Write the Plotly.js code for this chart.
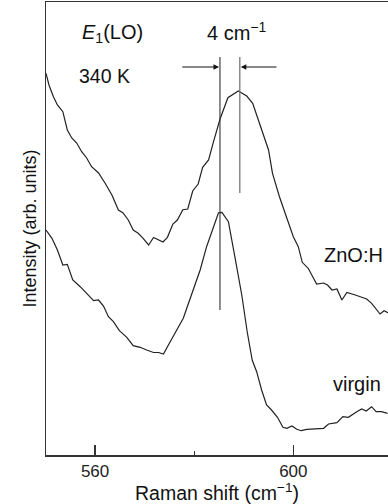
<!DOCTYPE html>
<html>
<head>
<meta charset="utf-8">
<script src="https://cdn.plot.ly/plotly-3.0.1.min.js"></script>
<style>
  html, body { margin: 0; padding: 0; background: #fff; }
  #chart { width: 388px; height: 504px; }
</style>
</head>
<body>
<div id="chart"></div>
<script>
// Raman spectra around the E1(LO) phonon at 340 K (intensity in arbitrary units)
const znohShift = [550.1, 550.7, 551.6, 552.4, 553.5, 554.4, 555.3, 556.3, 557.3, 558.3, 559.3, 560.7,
  562.0, 563.4, 564.7, 565.6, 566.7, 567.7, 568.7, 569.7, 570.8, 571.8, 573.7, 574.6, 575.7, 576.6,
  577.7, 578.7, 579.7, 580.8, 581.7, 582.9, 583.9, 585.2, 586.8, 587.9, 588.9, 590.6, 591.8, 592.6,
  593.3, 594.3, 595.0, 595.8, 597.2, 598.7, 600.0, 601.0, 601.8, 603.0, 604.7, 606.1, 606.9, 607.8,
  608.8, 609.8, 610.8, 612.5, 613.5, 614.8, 615.8, 616.8, 617.5, 618.3, 619.1];
const znohIntensity = [381.7, 370, 358.3, 350, 343.3, 325, 317, 312, 303.3, 297, 288.3, 282,
  272, 260, 245, 242.3, 235, 225, 221.7, 216.7, 210, 217.5, 213, 217.7, 231, 235,
  245.3, 246, 264, 271, 287.7, 295, 313.3, 335.7, 357.3, 361, 364, 359, 351.7, 340,
  330, 315, 305, 281.7, 258.3, 236.7, 218.3, 208.3, 192.7, 186.7, 171, 172, 170, 165,
  166, 155, 162.5, 160, 158.3, 156, 151.7, 145, 141, 144.3, 142.3];

const virginShift = [550.1, 551.3, 552.4, 553.5, 554.4, 555.5, 557.0, 558.3, 559.7, 560.7, 561.7, 562.7,
  563.7, 564.9, 566.4, 567.7, 569.1, 570.4, 571.8, 572.8, 573.8, 575.1, 576.5, 577.8, 578.5, 579.8,
  581.2, 582.5, 583.9, 584.9, 585.6, 586.9, 588.2, 589.6, 590.7, 591.7, 592.6, 593.6, 594.6, 595.6,
  596.8, 597.9, 598.7, 599.7, 600.7, 601.6, 602.7, 604.4, 606.1, 607.1, 608.8, 610.0, 611.1, 612.8,
  613.8, 614.7, 615.8, 616.7, 617.8, 619.0];
const virginIntensity = [225, 216.7, 205, 190, 190.7, 175, 168.3, 161.7, 154.3, 155, 149, 138.3,
  133.3, 124.3, 117.7, 109.3, 107.7, 105, 102.5, 102.5, 101, 112.8, 125, 136.7, 146.7, 165,
  185, 208.3, 228.3, 242.3, 242.7, 233.3, 198.3, 160, 123, 95, 83.3, 65, 50, 45,
  37.7, 27.7, 26.7, 29, 25.7, 24.3, 25.7, 26.3, 26.7, 31, 32.3, 38.3, 37.7, 43.3,
  46, 44, 48.3, 43.3, 43.3, 41.7];

// Peak positions marked by the vertical lines (4 cm^-1 apart)
const peakVirgin = 585.2;
const peakZnoh = 589.2;
const peakLineTop = 398;
const peakVirginLineBottom = 145;
const peakZnohLineBottom = 262;
const arrowLevel = 388;
const arrowLeftTail = 577.3;
const arrowRightTail = 596.9;

const xTickVals = [560, 600];
const xTickText = ['560', '600'];

const FONT = '"Liberation Sans", Arial, sans-serif';
const INK = '#111';
const CURVE = '#222';

const traces = [
  { x: znohShift, y: znohIntensity, type: 'scatter', mode: 'lines', name: 'ZnO:H',
    line: { color: CURVE, width: 1.2 }, hoverinfo: 'skip' },
  { x: virginShift, y: virginIntensity, type: 'scatter', mode: 'lines', name: 'virgin',
    line: { color: CURVE, width: 1.2 }, hoverinfo: 'skip' }
];

const layout = {
  width: 388, height: 504,
  margin: { l: 46, r: 0, t: 2, b: 49 },
  paper_bgcolor: '#fff', plot_bgcolor: '#fff',
  showlegend: false,
  font: { family: FONT, color: INK },
  xaxis: {
    range: [550.1, 619.1],
    showgrid: false, zeroline: false,
    showline: true, linecolor: '#333', linewidth: 1.5, mirror: true,
    ticks: 'inside', ticklen: 10, tickwidth: 1.2, tickcolor: '#333',
    tickmode: 'array', tickvals: xTickVals, ticktext: xTickText,
    minor: { tickmode: 'array', tickvals: [580], ticks: 'inside', ticklen: 4, tickwidth: 1.2, tickcolor: '#333' },
    tickfont: { size: 17, family: FONT, color: '#222' },
    title: { text: 'Raman shift (cm<sup>\u22121</sup>)', font: { size: 19.5, family: FONT, color: INK }, standoff: 13 }
  },
  yaxis: {
    range: [0, 453],
    showgrid: false, zeroline: false,
    showline: true, linecolor: '#333', linewidth: 1.5,
    ticks: '', showticklabels: false,
    title: { text: 'Intensity (arb. units)', font: { size: 18, family: FONT, color: INK }, standoff: 3 }
  },
  shapes: [
    { type: 'line', xref: 'x', yref: 'y', x0: peakVirgin, x1: peakVirgin, y0: peakVirginLineBottom, y1: peakLineTop,
      line: { color: '#333', width: 1.1 } },
    { type: 'line', xref: 'x', yref: 'y', x0: peakZnoh, x1: peakZnoh, y0: peakZnohLineBottom, y1: peakLineTop,
      line: { color: '#777', width: 1.3 } }
  ],
  annotations: [
    { xref: 'x', yref: 'y', x: peakVirgin - 0.2, y: arrowLevel, ax: arrowLeftTail, ay: arrowLevel,
      axref: 'x', ayref: 'y', text: '', showarrow: true, arrowhead: 2, arrowsize: 1, arrowwidth: 1.1, arrowcolor: INK },
    { xref: 'x', yref: 'y', x: peakZnoh + 0.2, y: arrowLevel, ax: arrowRightTail, ay: arrowLevel,
      axref: 'x', ayref: 'y', text: '', showarrow: true, arrowhead: 2, arrowsize: 1, arrowwidth: 1.1, arrowcolor: INK },
    { xref: 'x', yref: 'y', x: 556.9, y: 422, xanchor: 'left', yanchor: 'middle', showarrow: false,
      text: '<i>E</i><sub>1</sub>(LO)', font: { size: 20, family: FONT, color: INK } },
    { xref: 'x', yref: 'y', x: 556.4, y: 379, xanchor: 'left', yanchor: 'middle', showarrow: false,
      text: '340 K', font: { size: 19.5, family: FONT, color: INK } },
    { xref: 'x', yref: 'y', x: 588.7, y: 424, xanchor: 'center', yanchor: 'middle', showarrow: false,
      text: '4 cm<sup>\u22121</sup>', font: { size: 20, family: FONT, color: INK } },
    { xref: 'x', yref: 'y', x: 612.1, y: 200, xanchor: 'center', yanchor: 'middle', showarrow: false,
      text: 'ZnO:H', font: { size: 20, family: FONT, color: INK } },
    { xref: 'x', yref: 'y', x: 612.9, y: 71, xanchor: 'center', yanchor: 'middle', showarrow: false,
      text: 'virgin', font: { size: 20, family: FONT, color: INK } }
  ]
};

Plotly.newPlot('chart', traces, layout, { staticPlot: true, displayModeBar: false });
</script>
</body>
</html>
